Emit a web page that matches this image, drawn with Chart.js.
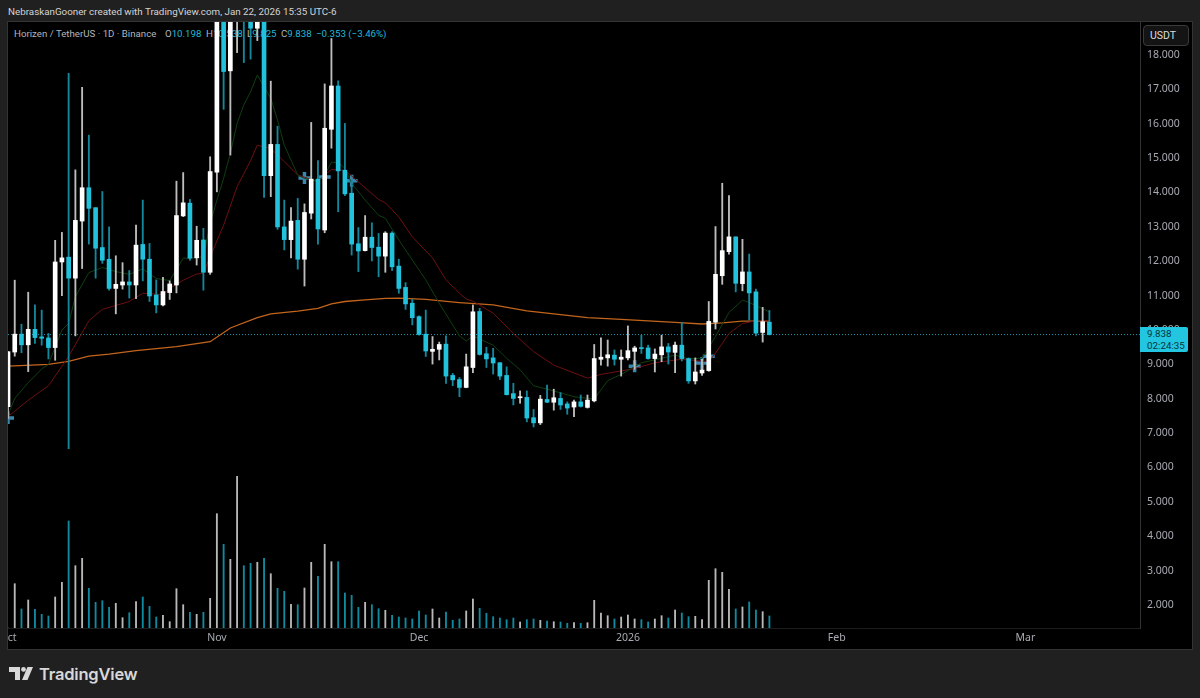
<!DOCTYPE html>
<html>
<head>
<meta charset="utf-8">
<title>Horizen / TetherUS</title>
<script src="https://cdn.jsdelivr.net/npm/chart.js@4"></script>
<style>
    html, body { margin: 0; padding: 0; width: 1200px; height: 698px; overflow: hidden; background: #202020; font-family: Roboto, sans-serif; }
    #credit { position: absolute; left: 8px; top: 4px; font-size: 9.8px; line-height: 15px; color: #d4d4d4; white-space: nowrap; }
    #frame { position: absolute; left: 7px; top: 21px; width: 1184px; height: 627px; background: #000; border: 1px solid #333; }
    #legend span { position: absolute; top: 26px; font-size: 9.7px; line-height: 15px; color: #b2b5be; white-space: nowrap; }
    #legend b { font-weight: normal; color: #22b8d6; }
    #chartBox { position: absolute; left: 8px; top: 22px; width: 1184px; height: 627px; }
    #unit { position: absolute; left: 1143px; top: 25px; width: 44px; height: 19px; line-height: 19px; border: 1px solid #3a3a3a; border-radius: 4px; background: #141414; color: #dcdcdc; font-size: 10.5px; text-indent: 6px; }
    #lastPrice { position: absolute; left: 1140px; top: 327px; width: 48px; height: 25px; background: #22c6e0; border-radius: 0 2px 2px 0; color: #08343d; font-size: 9.8px; line-height: 12px; padding: 1px 0 0 7px; box-sizing: border-box; white-space: nowrap; }
    #logo { position: absolute; left: 9px; top: 667px; }
    #logoText { position: absolute; left: 39px; top: 662px; font-family: Inter, sans-serif; font-weight: 600; font-size: 16.5px; line-height: 24px; color: #d8d8d8; letter-spacing: -0.2px; }
</style>
</head>
<body>
<div id="credit">NebraskanGooner created with TradingView.com, Jan 22, 2026 15:35 UTC-6</div>
<div id="frame"></div>
<div id="legend">
    <span style="left:14px">Horizen / TetherUS · 1D · Binance</span>
    <span style="left:165px">O<b>10.198</b></span>
    <span style="left:206px">H<b>10.538</b></span>
    <span style="left:247px">L<b>9.825</b></span>
    <span style="left:281px">C<b>9.838</b></span>
    <span style="left:316px"><b>−0.353 (−3.46%)</b></span>
</div>
<div id="chartBox"><canvas id="priceChart"></canvas></div>
<div id="unit">USDT</div>
<div id="lastPrice">9.838<br>02:24:35</div>
<svg id="logo" width="25" height="14" viewBox="0 0 25 14">
    <path fill="#d8d8d8" d="M0 0h11v13H6V5H0z"/>
    <circle fill="#d8d8d8" cx="14.5" cy="2.4" r="2.4"/>
    <path fill="#d8d8d8" d="M18.5 0H24L18.5 13H13z"/>
</svg>
<div id="logoText">TradingView</div>

<script>
// Daily bars, day 0 is Oct 1 2025. Values above the top of the pane are guesses.
const opens = [7.74,9.33,9.85,9.54,9.99,9.77,9.74,9.46,11.95,12.09,11.48,13.14,14.11,13.53,12.37,12.03,11.18,11.28,11.37,11.28,
    12.46,12.03,10.99,10.7,11.06,11.28,13.29,13.66,12.07,12.59,11.65,14.56,20.5,17.51,19.9,23,20,18.75,21,14.46,
    15.37,12.97,12.6,13.16,12.03,13.37,14.36,12.88,15.81,17.07,14.62,13.95,12.48,12.28,12.67,12.38,12.12,12.79,11.83,11.21,
    10.75,10.36,9.85,9.35,9.41,9.56,8.65,8.53,8.3,8.88,10.51,9.28,9.16,9.02,8.65,8.12,8,8.01,7.42,7.27,
    7.95,7.87,7.98,7.82,7.73,7.88,7.72,7.91,9.12,9.16,9.24,9.12,9.16,9.35,9.45,9.45,9.14,9.25,9.48,9.32,
    9.53,9.14,8.49,8.72,8.79,10.2,11.55,12.25,12.68,11.32,11.66,11.08,9.9,10.198];
const highs = [9.34,11.42,10.14,11.07,10.7,10.55,9.87,12.58,12.81,17.44,14.63,17.03,15.64,13.53,14,12.97,12.13,11.93,11.7,13.02,
    13.75,12.49,11.43,11.5,11.4,14.3,14.55,13.77,12.99,12.93,15.01,21.2,21,20.6,23.6,23.2,20.5,21.3,21.4,17.21,
    15.9,13.75,13.53,13.8,13.64,16.01,14.9,17.13,18.45,17.22,15.98,14.33,12.95,13.3,13.09,12.78,12.83,12.83,12.03,11.35,
    10.86,10.38,10.55,9.78,9.62,9.8,8.71,8.59,9.27,10.7,10.6,9.47,9.44,9.02,8.9,8.42,8.2,8.2,7.66,8.07,
    8.37,8.25,8.15,7.88,7.93,8.08,8.08,9.55,9.74,9.68,9.39,9.39,10.09,9.5,9.82,9.53,9.42,9.82,9.58,9.62,
    10.19,9.16,9.16,9.12,10.8,12.98,14.24,13.88,12.68,12.61,12.18,11.16,10.63,10.538];
const lows = [7.4,9.21,9.31,8.76,9.58,9.53,9.13,9.09,10.97,6.52,9.8,11.76,12.47,11.48,11.91,11.13,10.44,11.16,10.9,10.88,
    11.4,10.8,10.47,10.67,10.86,11.05,13.27,12,11.86,11.13,11.59,13.99,16.39,15.06,18.04,17.75,17.85,18.39,13.83,13.85,
    12.9,12.3,12.07,11.74,11.25,13.2,12.47,12.8,15.26,13.41,13.88,12.15,11.67,12.27,11.98,11.52,11.65,11.7,11.04,10.57,
    10.12,9.82,9.2,8.98,9.1,8.42,8.35,8.03,8.29,8.73,9.24,8.88,8.69,8.53,8.08,7.79,7.84,7.3,7.15,7.22,
    7.86,7.64,7.66,7.52,7.45,7.73,7.7,7.88,8.95,8.92,8.95,8.63,9.1,8.83,9.29,9.12,8.75,9.05,8.98,8.73,
    9.07,8.42,8.4,8.65,8.77,10,11.3,12.18,11.08,11.11,10.26,9.8,9.62,9.825];
const closes = [9.34,9.85,9.54,9.99,9.75,9.73,9.46,11.95,12.07,11.48,13.16,14.11,13.51,12.35,12,11.18,11.3,11.37,11.28,12.44,
    12.03,10.96,10.7,11.09,11.31,13.3,13.67,12.06,12.58,11.65,14.58,20.5,17.49,20,23,20,18.75,21,14.46,15.37,
    12.97,12.6,13.14,12.03,13.39,14.36,12.91,15.84,17.07,14.6,13.93,12.47,12.27,12.67,12.37,12.12,12.79,11.81,11.18,10.73,
    10.33,9.84,9.36,9.41,9.55,8.63,8.52,8.3,8.9,10.5,9.26,9.13,9.01,8.63,8.09,7.98,8.03,7.41,7.27,7.96,
    7.87,8,7.79,7.7,7.88,7.75,7.93,9.14,9.18,9.25,9.12,9.18,9.37,9.45,9.43,9.14,9.27,9.48,9.33,9.53,
    9.14,8.49,8.75,8.81,10.22,11.59,12.28,12.68,11.33,11.66,11.05,9.88,10.21,9.838];
const volumes = [0,4.43,1.9,2.8,1.87,1.37,1.2,3.1,4.57,10.7,6.23,6.97,3.97,2.57,2.73,2.07,2.47,1.03,1.53,2.63,
    3.1,2.17,1.1,1.27,0.63,3.93,2.33,1.57,1.37,1.57,2.97,11.43,8.37,6.87,15.17,6.23,6.47,6.57,6.97,5.43,
    3.97,3.67,2.37,2.33,4,6.57,5.17,8.37,6.63,6.63,3.5,3.27,2.07,2.57,2.33,1.93,1.77,1.27,1.1,1,
    0.9,1.7,1.3,1.9,1,1.6,0.77,0.9,1.7,2.9,1.97,1.47,1.13,1,0.83,1,0.6,0.83,0.9,0.77,
    0.7,0.63,0.6,0.47,0.53,0.47,0.53,2.77,1.5,1.23,0.9,1.1,1.3,0.9,0.83,0.6,0.9,1.23,1,1.8,
    1.5,1.13,1.17,0.83,4.77,5.93,5.57,3.87,1.9,2.1,2.6,1.8,1.63,1.2];

// Moving averages read at the days where they bend
const greenDays = [0,1,3,5,6,8,9,10,12,14,16,18,20,22,24,26,27,29,30,31,32,33,34,35,36,37,39,40,41,43,44,46,47,48,49,50,51,53,55,56,58,62,64,67,68,69,72,74,76,78,81,84,87,89,91,94,96,99,101,103,105,107,109,110,113];
const greenValues = [7.5,7.98,8.44,8.84,8.97,9.97,10.16,10.94,11.64,11.79,11.67,11.59,11.75,11.47,11.41,12.06,12.06,12.1,13.07,13.75,14.38,15.11,15.98,16.52,16.9,17.39,16.71,16.08,15.35,14.48,14.38,14.29,14.48,14.85,14.85,14.67,14.24,13.75,13.31,13.22,12.59,11.43,10.75,9.8,9.65,9.8,9.53,9.15,8.81,8.35,8.2,8.03,7.96,8.5,8.68,9.02,9.1,9.24,9.13,9.15,9.78,10.48,10.84,10.77,10.5];
const redDays = [0,3,6,9,12,14,18,20,23,24,26,28,29,30,32,34,36,37,38,39,41,43,46,47,48,50,52,55,56,58,60,63,65,67,68,69,72,75,78,81,86,88,93,96,100,104,105,107,109,111,113];
const redValues = [7.45,7.93,8.35,9.2,10.24,10.57,10.8,11.04,11,11.18,11.42,11.6,11.62,12.1,13.02,14.14,14.9,15.35,15.3,15.25,14.87,14.48,14.29,14.48,14.64,14.62,14.28,13.77,13.67,13.26,12.68,12.07,11.43,11.04,10.87,10.81,10.46,9.87,9.34,8.95,8.57,8.68,8.85,9.02,9.12,9.05,9.3,9.87,10.16,10.24,10.24];
const orangeDays = [0,6,9,12,15,19,25,30,33,37,39,43,46,48,50,53,56,58,62,67,72,77,86,91,99,103,106,109,113];
const orangeValues = [8.92,8.97,9.06,9.21,9.27,9.37,9.49,9.63,10.03,10.33,10.44,10.52,10.6,10.73,10.8,10.85,10.89,10.9,10.86,10.77,10.7,10.53,10.33,10.28,10.19,10.145,10.18,10.23,10.23];

// Blue cross signals
const crossDays = [0,44,47,51,93,103,104];
const crossValues = [7.41,14.39,14.42,14.31,8.92,9.01,9.21];

const lastClose = 9.838;
const lastDays = [0,168];

const monthDays = [0,31,61,92,123,151];
const monthLabels = ['Oct','Nov','Dec','2026','Feb','Mar'];
const priceTicks = [2,3,4,5,6,7,8,9,10,11,12,13,14,15,16,17,18];

const upColor = '#ffffff';
const downColor = '#22c1dc';
const upWick = '#bdbdbd';
const downWick = '#13879c';
const upVolume = '#b8b8b8';
const downVolume = '#0f8ba1';

const days = opens.map((_, i) => i);
const isUp = i => closes[i] >= opens[i];

function pairs(xs, ys) {
    return xs.map((x, i) => ({ x: x, y: ys[i] }));
}

function lineSet(label, xs, ys, color, width, order) {
    return {
        type: 'line',
        label: label,
        data: pairs(xs, ys),
        borderColor: color,
        borderWidth: width,
        pointRadius: 0,
        tension: 0,
        order: order
    };
}

new Chart(document.getElementById('priceChart').getContext('2d'), {
    type: 'bar',
    data: {
        datasets: [
            {
                label: 'Body',
                data: days.map(i => ({ x: i, y: [opens[i], closes[i]] })),
                backgroundColor: days.map(i => isUp(i) ? upColor : downColor),
                barThickness: 4,
                minBarLength: 1,
                grouped: false,
                order: 1
            },
            {
                label: 'Wick',
                data: days.map(i => ({ x: i, y: [lows[i], highs[i]] })),
                backgroundColor: days.map(i => isUp(i) ? upWick : downWick),
                barThickness: 1.2,
                grouped: false,
                order: 2
            },
            lineSet('EMA fast', greenDays, greenValues, '#0f3f10', 1, 3),
            lineSet('EMA slow', redDays, redValues, '#6e0f0f', 1, 3),
            lineSet('EMA long', orangeDays, orangeValues, '#c2641c', 1.3, 3),
            {
                type: 'line',
                label: 'Cross',
                data: pairs(crossDays, crossValues),
                showLine: false,
                pointStyle: 'cross',
                pointRadius: 6,
                pointBorderWidth: 3.5,
                pointBorderColor: '#3a86ad',
                order: 4
            },
            {
                type: 'line',
                label: 'Last price',
                data: lastDays.map(d => ({ x: d, y: lastClose })),
                borderColor: '#1a97ad',
                borderWidth: 1,
                borderDash: [1, 2],
                pointRadius: 0,
                order: 5
            },
            {
                label: 'Volume',
                data: days.map(i => ({ x: i, y: volumes[i] })),
                yAxisID: 'vol',
                backgroundColor: days.map(i => isUp(i) ? upVolume : downVolume),
                barThickness: 1.2,
                grouped: false,
                order: 6
            }
        ]
    },
    options: {
        responsive: true,
        maintainAspectRatio: false,
        animation: false,
        layout: { padding: 0, autoPadding: false },
        plugins: {
            legend: { display: false },
            tooltip: { enabled: false }
        },
        scales: {
            x: {
                type: 'linear',
                offset: false,
                min: 0,
                max: 168,
                grid: { display: false, drawTicks: false },
                border: { color: '#1c1c1c' },
                afterBuildTicks: function(scale) {
                    scale.ticks = monthDays.map(d => ({ value: d }));
                },
                afterFit: function(scale) {
                    // the first label has to be cut by the pane edge, as in the original
                    scale.paddingLeft = 0;
                    scale.paddingRight = 0;
                    scale.height = 21;
                },
                ticks: {
                    autoSkip: false,
                    maxRotation: 0,
                    padding: 4,
                    color: '#a8abb3',
                    font: { family: "'Noto Sans'", size: 10.5 },
                    callback: function(value, index) {
                        return monthLabels[index];
                    }
                }
            },
            y: {
                position: 'right',
                min: 1.302,
                max: 18.931,
                grid: { display: false, drawTicks: false },
                border: { color: '#333333' },
                afterBuildTicks: function(scale) {
                    scale.ticks = priceTicks.map(v => ({ value: v }));
                },
                afterFit: function(scale) {
                    scale.width = 52;
                    scale.paddingTop = 0;
                    scale.paddingBottom = 0;
                },
                ticks: {
                    autoSkip: false,
                    padding: 7,
                    labelOffset: 1,
                    color: '#a8abb3',
                    font: { family: "'Noto Sans'", size: 10.5 },
                    callback: function(value) {
                        return value.toFixed(3);
                    }
                }
            },
            vol: {
                display: false,
                min: 0,
                max: 60.6
            }
        }
    }
});
</script>
</body>
</html>
